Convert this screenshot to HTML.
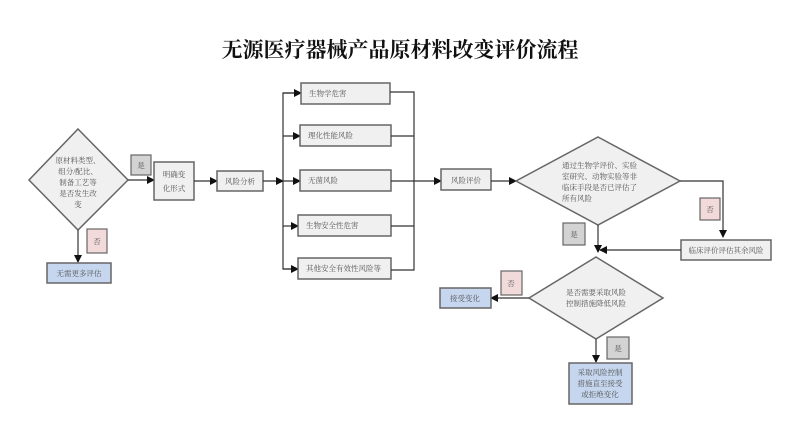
<!DOCTYPE html>
<html><head><meta charset="utf-8"><style>
html,body{margin:0;padding:0;background:#fff;}
svg{display:block;}
text{font-family:"Liberation Serif","Noto Serif CJK SC",serif;fill:#555;font-size:7.5px;}
.t{font-size:21px;font-weight:bold;fill:#111;}
.b{fill:#f0f0f0;stroke:#666;stroke-width:1.5;}
.bl{fill:#c5d6ee;stroke:#666;stroke-width:1.5;}
.y{fill:#d3d3d3;stroke:#666;stroke-width:1.2;}
.n{fill:#f2dada;stroke:#666;stroke-width:1.2;}
.l{stroke:#333;stroke-width:1.2;fill:none;}
</style></head><body>
<svg width="800" height="438" viewBox="0 0 800 438" xmlns="http://www.w3.org/2000/svg">
<defs><marker id="a" markerWidth="8" markerHeight="8" refX="7" refY="4" orient="auto" markerUnits="userSpaceOnUse"><path d="M0,0 L8,4 L0,8 z" fill="#111"/></marker></defs>
<text class="t" x="400" y="57" text-anchor="middle">无源医疗器械产品原材料改变评价流程</text>

<polygon class="b" points="78,129 128,180 78,230 29,180"/>
<text x="78" y="163" text-anchor="middle">原材料类型、</text>
<text x="78" y="174" text-anchor="middle">组分/配比、</text>
<text x="78" y="185" text-anchor="middle">制备工艺等</text>
<text x="78" y="196" text-anchor="middle">是否发生改</text>
<text x="78" y="207" text-anchor="middle">变</text>
<rect class="y" x="131" y="155" width="20" height="20"/><text x="141" y="168" text-anchor="middle">是</text>
<line class="l" x1="128" y1="180" x2="154" y2="180" marker-end="url(#a)"/>
<rect class="b" x="154" y="162" width="40" height="38"/>
<text x="174" y="177" text-anchor="middle">明确变</text><text x="174" y="191" text-anchor="middle">化形式</text>
<line class="l" x1="194" y1="181" x2="217" y2="181" marker-end="url(#a)"/>
<rect class="b" x="217" y="171" width="46" height="20"/><text x="240" y="184" text-anchor="middle">风险分析</text>
<line class="l" x1="263" y1="181" x2="283" y2="181" marker-end="url(#a)"/>
<rect class="n" x="87" y="229" width="20" height="24"/><text x="97" y="244" text-anchor="middle">否</text>
<line class="l" x1="78" y1="230" x2="78" y2="262" marker-end="url(#a)"/>
<rect class="bl" x="47" y="263" width="64" height="20"/><text x="79" y="276" text-anchor="middle">无需更多评估</text>

<polyline class="l" points="301,93 283,93 283,269 298,269"/>
<line class="l" x1="283" y1="93" x2="301" y2="93" marker-end="url(#a)"/>
<line class="l" x1="283" y1="136" x2="300" y2="136" marker-end="url(#a)"/>
<line class="l" x1="283" y1="181" x2="300" y2="181" marker-end="url(#a)"/>
<line class="l" x1="283" y1="226" x2="298" y2="226" marker-end="url(#a)"/>
<line class="l" x1="283" y1="269" x2="298" y2="269" marker-end="url(#a)"/>
<rect class="b" x="301" y="83" width="89" height="21"/><text x="309" y="96">生物学危害</text>
<rect class="b" x="300" y="125" width="91" height="21"/><text x="308" y="138">理化性能风险</text>
<rect class="b" x="300" y="170" width="91" height="21"/><text x="308" y="183">无菌风险</text>
<rect class="b" x="298" y="215" width="93" height="21"/><text x="306" y="228">生物安全性危害</text>
<rect class="b" x="298" y="258" width="93" height="21"/><text x="306" y="271">其他安全有效性风险等</text>
<polyline class="l" points="390,92 414,92 414,270 391,270"/>
<line class="l" x1="391" y1="136" x2="414" y2="136"/>
<line class="l" x1="391" y1="181" x2="414" y2="181"/>
<line class="l" x1="391" y1="226" x2="414" y2="226"/>
<line class="l" x1="414" y1="181" x2="441" y2="181" marker-end="url(#a)"/>
<rect class="b" x="441" y="169" width="50" height="21"/><text x="466" y="183" text-anchor="middle">风险评价</text>
<line class="l" x1="491" y1="181" x2="516" y2="181" marker-end="url(#a)"/>

<polygon class="b" points="598,137 680,181 598,225 516,181"/>
<text x="562" y="168">通过生物学评价、实验</text>
<text x="562" y="179">室研究、动物实验等非</text>
<text x="562" y="190">临床手段是否已评估了</text>
<text x="562" y="201">所有风险</text>
<polyline class="l" points="680,181 723,181 723,237" marker-end="url(#a)"/>
<rect class="n" x="700" y="198" width="20" height="22"/><text x="710" y="212" text-anchor="middle">否</text>
<rect class="b" x="681" y="240" width="90" height="20"/><text x="726" y="253" text-anchor="middle">临床评价评估其余风险</text>
<line class="l" x1="681" y1="250" x2="600" y2="250" marker-end="url(#a)"/>
<line class="l" x1="598" y1="225" x2="598" y2="252" marker-end="url(#a)"/>
<rect class="y" x="563" y="223" width="22" height="22"/><text x="574" y="237" text-anchor="middle">是</text>

<polygon class="b" points="596,257 663,298 596,339 529,298"/>
<text x="596" y="295" text-anchor="middle">是否需要采取风险</text>
<text x="596" y="306" text-anchor="middle">控制措施降低风险</text>
<line class="l" x1="529" y1="298" x2="491" y2="298" marker-end="url(#a)"/>
<rect class="n" x="501" y="271" width="21" height="24"/><text x="511" y="286" text-anchor="middle">否</text>
<rect class="bl" x="440" y="288" width="51" height="20"/><text x="465" y="301" text-anchor="middle">接受变化</text>
<line class="l" x1="596" y1="339" x2="596" y2="362" marker-end="url(#a)"/>
<rect class="y" x="607" y="337" width="22" height="22"/><text x="618" y="351" text-anchor="middle">是</text>
<rect class="bl" x="569" y="363" width="63" height="41"/>
<text x="600" y="375" text-anchor="middle">采取风险控制</text>
<text x="600" y="386" text-anchor="middle">措施直至接受</text>
<text x="600" y="397" text-anchor="middle">或拒绝变化</text>
</svg>
</body></html>
